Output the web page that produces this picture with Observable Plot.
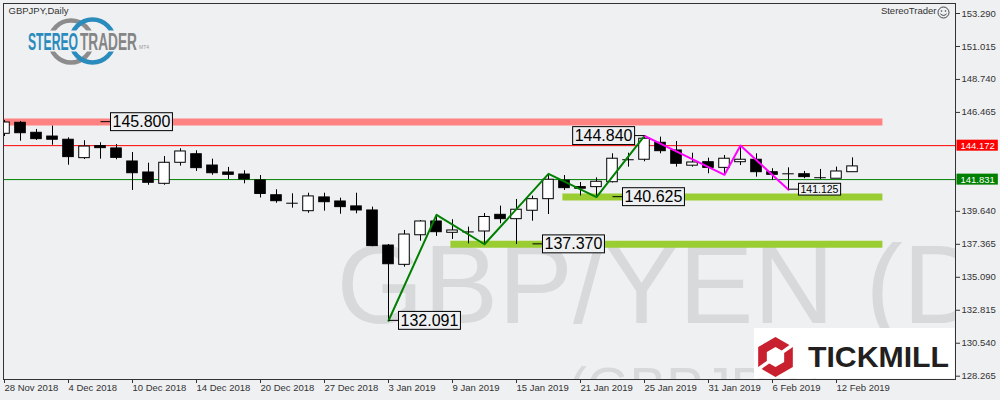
<!DOCTYPE html>
<html><head><meta charset="utf-8">
<script src="https://cdn.jsdelivr.net/npm/d3@7"></script>
<script src="https://cdn.jsdelivr.net/npm/@observablehq/plot@0.6"></script>
<style>
html,body{margin:0;padding:0;background:#eff0f2;}
body{width:1000px;height:400px;overflow:hidden;}
svg{display:block}
</style></head><body>
<script>
// ---------- DATA ----------
const dates = ["28 Nov 2018","29 Nov 2018","30 Nov 2018","3 Dec 2018","4 Dec 2018","5 Dec 2018","6 Dec 2018","7 Dec 2018",
"10 Dec 2018","11 Dec 2018","12 Dec 2018","13 Dec 2018","14 Dec 2018","17 Dec 2018","18 Dec 2018","19 Dec 2018",
"20 Dec 2018","21 Dec 2018","24 Dec 2018","26 Dec 2018","27 Dec 2018","28 Dec 2018","31 Dec 2018","2 Jan 2019",
"3 Jan 2019","4 Jan 2019","7 Jan 2019","8 Jan 2019","9 Jan 2019","10 Jan 2019","11 Jan 2019","14 Jan 2019",
"15 Jan 2019","16 Jan 2019","17 Jan 2019","18 Jan 2019","21 Jan 2019","22 Jan 2019","23 Jan 2019","24 Jan 2019",
"25 Jan 2019","28 Jan 2019","29 Jan 2019","30 Jan 2019","31 Jan 2019","1 Feb 2019","4 Feb 2019","5 Feb 2019",
"6 Feb 2019","7 Feb 2019","8 Feb 2019","11 Feb 2019","12 Feb 2019","13 Feb 2019"];
const open  = [144.99,145.75,145.06,144.80,144.58,143.31,144.14,143.98,143.08,142.32,141.54,142.99,143.58,142.80,142.32,142.18,141.77,140.75,140.20,139.65,140.60,140.32,139.98,139.70,137.28,135.95,137.99,138.94,138.16,138.22,138.25,139.40,139.10,139.68,140.48,141.75,141.31,141.31,141.65,143.20,143.20,144.37,143.84,142.79,143.03,142.64,143.03,143.20,142.34,142.23,142.20,141.96,141.89,142.34];
const high  = [145.91,145.84,145.29,145.52,144.71,144.51,144.37,144.25,143.70,142.96,143.42,143.96,143.82,143.24,142.67,142.44,142.11,141.13,140.85,140.89,140.89,140.55,140.89,139.93,137.35,138.32,139.00,139.40,139.06,138.55,139.49,140.00,140.46,140.69,142.23,142.11,141.63,141.95,143.61,143.65,144.84,144.76,144.46,143.65,143.31,143.49,144.18,143.61,142.58,142.64,142.39,142.53,142.69,143.33];
const low   = [144.80,144.48,144.53,144.20,142.82,143.22,143.24,143.20,141.08,141.44,141.44,142.76,142.39,142.13,141.84,141.54,140.56,140.20,139.86,139.51,139.65,139.44,139.47,137.20,132.091,135.79,137.58,137.91,137.70,137.40,137.37,138.78,137.35,138.96,139.42,141.08,140.70,140.625,141.60,142.69,143.06,143.61,142.69,142.69,142.23,142.16,142.80,142.00,141.77,141.125,141.89,141.84,141.89,142.34];
const close = [145.77,145.03,144.62,144.58,143.38,144.11,144.00,143.33,142.27,141.61,142.99,143.77,142.62,142.27,142.16,141.84,140.84,140.34,140.20,140.67,140.27,139.93,139.70,137.24,135.99,138.04,138.94,138.20,138.32,138.22,139.25,139.10,139.75,140.48,141.82,141.24,141.20,141.68,143.27,143.20,144.65,143.79,142.92,143.01,142.64,143.27,143.20,142.34,142.16,142.23,142.00,141.96,142.39,142.74];

const xTickIdx = [0,4,8,12,16,20,24,28,32,36,40,44,48,52];
const yTicks = [128.265,130.540,132.815,135.090,137.365,139.640,146.465,148.740,151.015,153.290];

const zigGreenIdx = [24,27,30,34,37,40];
const zigGreenVal = [132.091,139.40,137.370,142.23,140.625,144.840];
const zigPinkIdx  = [40,45,46,49];
const zigPinkVal  = [144.840,142.16,144.18,141.125];

const bandVal  = [145.800,140.625,137.370];
const bandFrom = [-1,34.9,27.9];
const bandTo   = [54.9,54.9,54.9];

const levelVal  = [145.800,132.091,137.370,140.625,144.840,141.125];
const levelIdx  = [6,24,33,38,40,49];
const levelSide = ["right","right","right","right","left","right"];

const priceLineVal = [144.172,141.831];

const chartTitle = "GBPJPY,Daily";
const brandText = "StereoTrader";
const watermarkMain = "GBP/YEN (Daily)";
const watermarkSub = "(GBPJPY)";

// ---------- STYLE ----------
const BG = "#eff0f2";
const bandColors = ["#ff8282","#9acd32","#9acd32"];
const priceLineColors = ["#ff0000","#008000"];
const levelFont = [16,16,16,16,16,10.5];

// ---------- BUILD ----------
const bars = dates.map((d,i)=>({i, date:d, o:open[i], h:high[i], l:low[i], c:close[i]}));
const isDoji = d => Math.abs(d.o - d.c) < 0.005;
const zg = zigGreenIdx.map((i,k)=>({i, v:zigGreenVal[k]}));
const zp = zigPinkIdx.map((i,k)=>({i, v:zigPinkVal[k]}));
const bands = bandVal.map((v,k)=>({v, from:bandFrom[k], to:bandTo[k], color:bandColors[k]}));
const levels = levelVal.map((v,k)=>({v, i:levelIdx[k], side:levelSide[k], fs:levelFont[k]}));
const pls = priceLineVal.map((v,k)=>({v, color:priceLineColors[k]}));

const plot = Plot.plot({
  width:1000, height:400,
  marginLeft:3, marginRight:45, marginTop:3, marginBottom:21,
  style:{background:BG, fontFamily:"'Liberation Sans', Arial, sans-serif", fontSize:"9.5px", color:"#222"},
  x:{type:"linear", domain:[0,52], range:[4,836]},
  y:{domain:[128.265,153.290], range:[375.7,13]},
  marks:[
    Plot.text([watermarkMain], {text:d=>d, frameAnchor:"top-left", dx:333, dy:319, textAnchor:"start", lineAnchor:"bottom", fontSize:112, fill:"#d8d9db", clip:true}),
    Plot.text([watermarkSub], {text:d=>d, frameAnchor:"top-left", dx:565, dy:402, textAnchor:"start", lineAnchor:"bottom", fontSize:55, fill:"#d8d9db", clip:true}),
    Plot.ruleY(bands, {y:"v", x1:"from", x2:"to", stroke:d=>d.color, strokeWidth:7, clip:true}),
    Plot.ruleY(pls, {y:"v", stroke:d=>d.color, strokeWidth:1}),
    Plot.ruleX(bars, {x:"i", y1:"l", y2:"h", stroke:"#000", clip:true}),
    Plot.rect(bars.filter(d=>!isDoji(d)), {x1:d=>d.i-0.33, x2:d=>d.i+0.33, y1:"o", y2:"c", fill:d=>d.c>d.o?"#ffffff":"#000000", stroke:"#000", clip:true}),
    Plot.ruleY(bars.filter(isDoji), {y:"o", x1:d=>d.i-0.36, x2:d=>d.i+0.36, stroke:"#000", clip:true}),
    Plot.line(zg, {x:"i", y:"v", stroke:"#008000", strokeWidth:2}),
    Plot.line(zp, {x:"i", y:"v", stroke:"#ff00ff", strokeWidth:2}),
    Plot.text(levels.filter(d=>d.side==="right"), {x:"i", y:"v", text:d=>d.v.toFixed(3), textAnchor:"start", dx:12, fontSize:d=>d.fs, fill:"#000"}),
    Plot.text(levels.filter(d=>d.side==="left"), {x:"i", y:"v", text:d=>d.v.toFixed(3), textAnchor:"end", dx:-12, fontSize:d=>d.fs, fill:"#000"}),
    Plot.text([chartTitle], {text:d=>d, frameAnchor:"top-left", dx:5, dy:4, textAnchor:"start", lineAnchor:"top", fill:"#333"}),
    Plot.text([brandText], {text:d=>d, frameAnchor:"top-right", dx:-19, dy:4, textAnchor:"end", lineAnchor:"top", fill:"#333"}),
    Plot.axisX({ticks:xTickIdx, tickFormat:i=>dates[i], textAnchor:"start", tickSize:4, tickPadding:1, color:"#333", label:null}),
    Plot.axisY({anchor:"right", ticks:yTicks, tickFormat:d=>d.toFixed(3), tickSize:4, tickPadding:2, color:"#333", label:null}),
    Plot.frame({stroke:"#333"}),
    Plot.text(pls, {y:"v", text:d=>d.v.toFixed(3), frameAnchor:"right", textAnchor:"start", dx:5, fill:"#fff"})
  ]
});
document.body.append(plot);
const svg = d3.select(plot);

const levelMap = new Map(levels.map(d=>[d.v.toFixed(3), d]));
const tagMap = new Map(pls.map(d=>[d.v.toFixed(3), d]));

svg.selectAll("text").each(function(){
  const node = this;
  const key = node.textContent;
  const tr = node.getAttribute("transform");
  const p = d3.select(node.parentNode);
  if (levelMap.has(key)) {
    const d = levelMap.get(key);
    const b = node.getBBox();
    const h = d.fs*1.12, pad = 2;
    const cy = b.y + b.height/2;
    const r = p.insert("rect", ()=>node)
      .attr("x", b.x-pad).attr("y", cy-h/2).attr("width", b.width+2*pad).attr("height", h)
      .attr("fill", BG).attr("stroke", "#000").attr("stroke-width", 1);
    const ln = p.insert("line", ()=>node)
      .attr("y1", cy).attr("y2", cy).attr("stroke", "#000").attr("stroke-width", 1);
    if (d.side==="right") ln.attr("x1", b.x-pad-10).attr("x2", b.x-pad);
    else ln.attr("x1", b.x+b.width+pad).attr("x2", b.x+b.width+pad+10);
    if (tr) { r.attr("transform", tr); ln.attr("transform", tr); }
  } else if (tagMap.has(key)) {
    const d = tagMap.get(key);
    const b = node.getBBox();
    const cy = b.y + b.height/2;
    const r = p.insert("rect", ()=>node)
      .attr("x", b.x-4).attr("y", cy-5.5).attr("width", b.width+7).attr("height", 11)
      .attr("fill", d.color).attr("stroke","none");
    if (tr) r.attr("transform", tr);
  }
});

// ---------- DECORATIONS (logos) ----------
const deco = svg.append("g").attr("text-anchor","start");
// StereoTrader logo
deco.append("circle").attr("cx",71).attr("cy",41.5).attr("r",21).attr("fill","none").attr("stroke","#8c8c8c").attr("stroke-width",4.5);
deco.append("circle").attr("cx",92.5).attr("cy",41).attr("r",21.5).attr("fill","none").attr("stroke","#2a8bbd").attr("stroke-width",4.5);
deco.append("rect").attr("x",44).attr("y",30.5).attr("width",76).attr("height",21).attr("fill",BG);
deco.append("text").attr("x",28).attr("y",49.5).attr("font-family","'Liberation Sans', Arial").attr("font-weight","bold").attr("font-size",24)
  .attr("textLength",50).attr("lengthAdjust","spacingAndGlyphs").attr("fill","#2a8bbd").text("STEREO");
deco.append("text").attr("x",80).attr("y",49.5).attr("font-family","'Liberation Sans', Arial").attr("font-weight","bold").attr("font-size",24)
  .attr("textLength",57).attr("lengthAdjust","spacingAndGlyphs").attr("fill","#858585").text("TRADER");
deco.append("text").attr("x",139).attr("y",49).attr("font-family","'Liberation Sans', Arial").attr("font-size",5).attr("fill","#999").text("MT4");
// smiley
deco.append("circle").attr("cx",943.5).attr("cy",12.5).attr("r",5.5).attr("fill","none").attr("stroke","#444").attr("stroke-width",1);
deco.append("circle").attr("cx",941.5).attr("cy",11).attr("r",0.8).attr("fill","#444");
deco.append("circle").attr("cx",945.5).attr("cy",11).attr("r",0.8).attr("fill","#444");
deco.append("path").attr("d","M940.3,13.8 Q943.5,17 946.7,13.8").attr("fill","none").attr("stroke","#444").attr("stroke-width",1);
// Tickmill logo
deco.append("rect").attr("x",754).attr("y",328).attr("width",200.5).attr("height",50.5).attr("fill","#ffffff");
const hex = (cx,cy,R)=>d3.range(6).map(k=>{const a=(-90+60*k)*Math.PI/180;return [cx+R*Math.cos(a), cy+R*Math.sin(a)];});
deco.append("path").attr("d","M"+hex(775.5,357,20).join("L")+"Z").attr("fill","#c8202f");
deco.append("path").attr("d","M"+hex(775.5,357,10).join("L")+"Z").attr("fill","#ffffff");
[-35,145].forEach(ang=>{
  const a = ang*Math.PI/180;
  deco.append("line").attr("x1",775.5+8*Math.cos(a)).attr("y1",357+8*Math.sin(a))
    .attr("x2",775.5+23*Math.cos(a)).attr("y2",357+23*Math.sin(a)).attr("stroke","#fff").attr("stroke-width",3.5);
});
deco.append("text").attr("x",808).attr("y",367).attr("font-family","'Liberation Sans', Arial").attr("font-weight","bold").attr("font-size",30)
  .attr("textLength",141).attr("lengthAdjust","spacingAndGlyphs").attr("fill","#231f20").text("TICKMILL");
</script>
</body></html>
